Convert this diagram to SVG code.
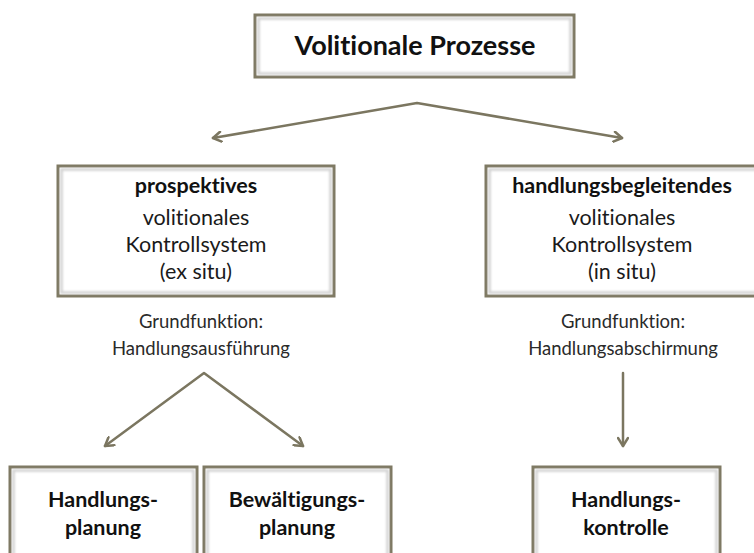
<svg xmlns="http://www.w3.org/2000/svg" width="754" height="553" viewBox="0 0 754 553">
<defs>
<style>
text{font-variant-ligatures:none;font-family:Lato,"Liberation Sans",sans-serif;text-anchor:middle}
.box{fill:#fff;stroke:#7e7963;stroke-width:3}
.inner{fill:none;stroke:#d0d0d0;stroke-width:2.5;filter:url(#blur)}
.b{font-weight:bold;fill:#111}
.n{fill:#1a1a1a}
.g{fill:#2a2a2a;font-size:18.5px}
.c{fill:none;stroke:#7b7660;stroke-width:2.5;stroke-linecap:round;stroke-linejoin:round}
</style>
<filter id="blur" x="-5%" y="-5%" width="110%" height="110%"><feGaussianBlur stdDeviation="1.2"/></filter>
<marker id="ah" viewBox="0 0 12 12" refX="10" refY="6" markerWidth="12" markerHeight="12" markerUnits="userSpaceOnUse" orient="auto-start-reverse">
<path d="M2,1 L10,6 L2,11" fill="none" stroke="#7b7660" stroke-width="2.5" stroke-linecap="round" stroke-linejoin="round"/>
</marker>
</defs>
<g id="connectors">
<path class="c" d="M213,138 L417,103 L622,138" marker-start="url(#ah)" marker-end="url(#ah)"/>
<path class="c" d="M105,446 L204,373 L303,446" marker-start="url(#ah)" marker-end="url(#ah)"/>
<path class="c" d="M623,373 L623,446" marker-end="url(#ah)"/>
</g>
<g id="volitionale-prozesse">
<rect class="box" x="255" y="15" width="319" height="62"/>
<rect class="inner" x="258.5" y="18.5" width="312" height="55"/>
<text class="b" x="415" y="55" font-size="27">Volitionale Prozesse</text>
</g>
<g id="prospektives">
<rect class="box" x="58" y="166" width="276" height="130"/>
<rect class="inner" x="61.5" y="169.5" width="269" height="123"/>
<text class="b" x="196" y="193" font-size="21.5">prospektives</text>
<text class="n" x="196" y="225" font-size="21.5">volitionales</text>
<text class="n" x="196" y="252" font-size="21.5">Kontrollsystem</text>
<text class="n" x="196" y="279" font-size="21.5">(ex situ)</text>
</g>
<g id="handlungsbegleitendes">
<rect class="box" x="486" y="166" width="276" height="130"/>
<rect class="inner" x="489.5" y="169.5" width="269" height="123"/>
<text class="b" x="622" y="193" font-size="21.5">handlungsbegleitendes</text>
<text class="n" x="622" y="225" font-size="21.5">volitionales</text>
<text class="n" x="622" y="252" font-size="21.5">Kontrollsystem</text>
<text class="n" x="622" y="279" font-size="21.5">(in situ)</text>
</g>
<g id="grundfunktion-links">
<text class="g" x="201" y="328">Grundfunktion:</text>
<text class="g" x="201" y="355">Handlungsausführung</text>
</g>
<g id="grundfunktion-rechts">
<text class="g" x="623" y="328">Grundfunktion:</text>
<text class="g" x="623" y="355">Handlungsabschirmung</text>
</g>
<g id="handlungsplanung">
<rect class="box" x="10" y="467" width="187" height="100"/>
<rect class="inner" x="13.5" y="470.5" width="180" height="100"/>
<text class="b" x="103" y="507" font-size="21.5">Handlungs-</text>
<text class="b" x="103" y="535" font-size="21.5">planung</text>
</g>
<g id="bewaeltigungsplanung">
<rect class="box" x="204" y="467" width="187" height="100"/>
<rect class="inner" x="207.5" y="470.5" width="180" height="100"/>
<text class="b" x="297" y="507" font-size="21.5">Bewältigungs-</text>
<text class="b" x="297" y="535" font-size="21.5">planung</text>
</g>
<g id="handlungskontrolle">
<rect class="box" x="533" y="467" width="187" height="100"/>
<rect class="inner" x="536.5" y="470.5" width="180" height="100"/>
<text class="b" x="626" y="507" font-size="21.5">Handlungs-</text>
<text class="b" x="626" y="535" font-size="21.5">kontrolle</text>
</g>
</svg>
